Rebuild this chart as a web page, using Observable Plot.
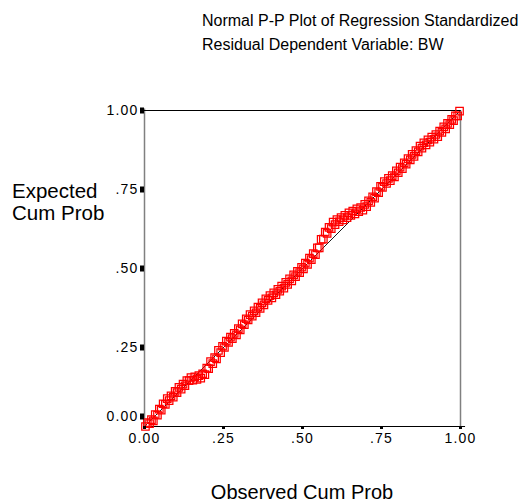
<!DOCTYPE html>
<html>
<head>
<meta charset="utf-8">
<script src="https://cdn.jsdelivr.net/npm/d3@7"></script>
<script src="https://cdn.jsdelivr.net/npm/@observablehq/plot@0.6"></script>
<style>
  html, body { margin: 0; padding: 0; background: #fff; }
  #wrap { position: relative; width: 520px; height: 504px; font-family: "Liberation Sans", Arial, sans-serif; color: #000; }
  #wrap svg { position: absolute; left: 0; top: 0; }
  #wrap svg text { letter-spacing: 1.2px; }
  .lbl { position: absolute; white-space: nowrap; }
  #title { left: 202px; top: 9px; font-size: 16px; line-height: 24px; }
  #ylab { left: 12px; top: 180px; font-size: 20.5px; line-height: 22px; }
  #xlab { left: 0; width: 604px; text-align: center; top: 480px; font-size: 20px; line-height: 24px; }
</style>
</head>
<body>
<div id="wrap">
  <div class="lbl" id="title">Normal P-P Plot of Regression Standardized<br>Residual Dependent Variable: BW</div>
  <div class="lbl" id="ylab">Expected<br>Cum Prob</div>
  <div class="lbl" id="xlab">Observed Cum Prob</div>
</div>
<script>
// Observed cumulative probability (x) and expected cumulative probability (y)
const observed = [
  0.003,0.009,0.016,0.022,0.028,0.034,0.041,0.047,0.053,0.059,
  0.066,0.072,0.078,0.084,0.091,0.097,0.103,0.109,0.116,0.122,
  0.128,0.134,0.141,0.147,0.153,0.159,0.166,0.172,0.178,0.184,
  0.191,0.197,0.203,0.209,0.216,0.222,0.228,0.234,0.241,0.247,
  0.253,0.259,0.266,0.272,0.278,0.284,0.291,0.297,0.303,0.309,
  0.316,0.322,0.328,0.334,0.341,0.347,0.353,0.359,0.366,0.372,
  0.378,0.384,0.391,0.397,0.403,0.409,0.416,0.422,0.428,0.434,
  0.441,0.447,0.453,0.459,0.466,0.472,0.478,0.484,0.491,0.497,
  0.503,0.509,0.516,0.522,0.528,0.534,0.541,0.547,0.553,0.559,
  0.566,0.572,0.578,0.584,0.591,0.597,0.603,0.609,0.616,0.622,
  0.628,0.634,0.641,0.647,0.653,0.659,0.666,0.672,0.678,0.684,
  0.691,0.697,0.703,0.709,0.716,0.722,0.728,0.734,0.741,0.747,
  0.753,0.759,0.766,0.772,0.778,0.784,0.791,0.797,0.803,0.809,
  0.816,0.822,0.828,0.834,0.841,0.847,0.853,0.859,0.866,0.872,
  0.878,0.884,0.891,0.897,0.903,0.909,0.916,0.922,0.928,0.934,
  0.941,0.947,0.953,0.959,0.966,0.972,0.978,0.984,0.991,0.997
];
const expected = [
  0.000,0.012,0.009,0.022,0.018,0.038,0.036,0.055,0.052,0.072,
  0.070,0.088,0.082,0.097,0.093,0.111,0.107,0.124,0.118,0.134,
  0.129,0.145,0.145,0.155,0.147,0.157,0.149,0.161,0.153,0.167,
  0.164,0.185,0.183,0.205,0.199,0.218,0.214,0.241,0.234,0.254,
  0.250,0.270,0.266,0.283,0.278,0.295,0.290,0.310,0.306,0.325,
  0.322,0.341,0.337,0.354,0.349,0.366,0.360,0.378,0.374,0.391,
  0.385,0.404,0.399,0.414,0.407,0.423,0.417,0.434,0.428,0.444,
  0.438,0.456,0.450,0.467,0.461,0.480,0.474,0.491,0.487,0.504,
  0.499,0.517,0.513,0.533,0.528,0.547,0.544,0.565,0.565,0.592,
  0.593,0.615,0.611,0.630,0.626,0.647,0.639,0.655,0.648,0.661,
  0.654,0.668,0.661,0.676,0.668,0.682,0.673,0.689,0.680,0.693,
  0.685,0.703,0.696,0.714,0.709,0.727,0.723,0.743,0.740,0.760,
  0.757,0.775,0.769,0.785,0.778,0.794,0.790,0.809,0.803,0.821,
  0.816,0.834,0.830,0.848,0.844,0.861,0.855,0.873,0.869,0.887,
  0.881,0.898,0.891,0.907,0.900,0.916,0.909,0.924,0.917,0.935,
  0.931,0.948,0.942,0.959,0.955,0.972,0.968,0.983,0.983,0.998
];
const diagonal = [0, 1];
const yTicks = [0.25, 0.5, 0.75, 1];
const xTicks = [0, 0.25, 0.5, 0.75, 1];
const zeroTick = [0];

const points = observed.map((o, i) => ({observed: o, expected: expected[i]}));
const fmt = d => (d === 0 || d === 1) ? d3.format(".2f")(d) : d3.format(".2f")(d).slice(1);

const chart = Plot.plot({
  width: 520,
  height: 504,
  marginLeft: 144,
  marginRight: 60,
  marginTop: 110,
  marginBottom: 78,
  style: {fontFamily: '"Liberation Sans", Arial, sans-serif', fontSize: "14px", background: "transparent", color: "#000"},
  x: {domain: [0, 1]},
  y: {domain: [0, 1]},
  marks: [
    Plot.ruleX([0], {stroke: "#808080", strokeWidth: 1.5, y1: 0, y2: 1.005}),
    Plot.ruleX([1], {stroke: "#808080", strokeWidth: 1.5, y1: 0, y2: 1}),
    Plot.ruleY([1], {stroke: "#000", strokeWidth: 1.2, x1: 0, x2: 1}),
    Plot.ruleY([0], {stroke: "#000", strokeWidth: 1.2, x1: 0, x2: 1.016}),
    Plot.line(diagonal, {x: d => d, y: d => d, stroke: "#000", strokeWidth: 0.9}),
    Plot.dot(points, {x: "observed", y: "expected", symbol: "square", r: 4.2, stroke: "#ff0000", fill: "none", strokeWidth: 1.25}),
    Plot.axisY(yTicks, {tickFormat: fmt, tickSize: 4, tickPadding: 2, strokeWidth: 6, stroke: "#000", label: null}),
    Plot.axisY(zeroTick, {tickFormat: fmt, tickSize: 4, tickPadding: 2, strokeWidth: 6, stroke: "#000", dy: -10, label: null}),
    Plot.axisX(xTicks, {tickFormat: fmt, tickSize: 3, tickPadding: 4, strokeWidth: 3, stroke: "#000", label: null})
  ]
});
document.getElementById("wrap").appendChild(chart);
</script>
</body>
</html>
